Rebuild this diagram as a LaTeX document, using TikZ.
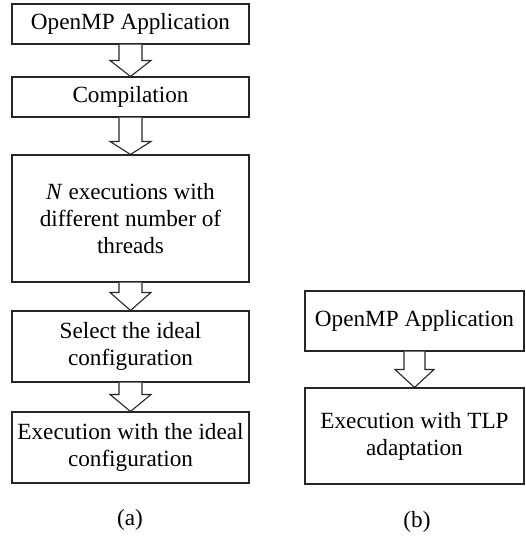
\documentclass[tikz,border=0pt]{standalone}
\usepackage{fontspec}
\setmainfont{Liberation Serif}
\usetikzlibrary{calc}
\tikzset{
  box/.style={draw=black!85, line width=1.1pt, inner sep=0pt, align=center,
    font=\fontsize{23.2}{27}\selectfont},
  blk/.style={draw=black!85, line width=1.1pt, fill=white, line join=miter},
  sublabel/.style={font=\fontsize{23.2}{27}\selectfont}
}
\newcommand\blkarrow[4]{% from, to, half shaft, head length
  \draw[blk] let \p1=(#1.south), \p2=(#2.north) in
    (\x1-#3,\y1) -- (\x1-#3,\y2+#4) -- (\x1-#3-9,\y2+#4) -- (\x1,\y2)
    -- (\x1+#3+9,\y2+#4) -- (\x1+#3,\y2+#4) -- (\x1+#3,\y1);
}
\begin{document}
\begin{tikzpicture}[x=1pt,y=-1pt]
\useasboundingbox (0,0) rectangle (526,539);
% left flow
\node[box, minimum width=237pt, minimum height=40pt] (b1) at (130.5,24) {OpenMP Application};
\node[box, minimum width=237pt, minimum height=40pt] (b2) at (130.5,97) {Compilation};
\node[box, minimum width=237pt, minimum height=127pt] (b3) at (130.5,218.5) {\textit{N} executions with\\different number of\\threads};
\node[box, minimum width=237pt, minimum height=71pt] (b4) at (130.5,346.5) {Select the ideal\\configuration};
\node[box, minimum width=237pt, minimum height=71pt] (b5) at (130.5,447.5) {Execution with the ideal\\configuration};
\node[sublabel] (la) at (130,520) {(a)};
\blkarrow{b1}{b2}{11.5}{16}
\blkarrow{b2}{b3}{11.5}{13}
\blkarrow{b3}{b4}{11.5}{18}
\blkarrow{b4}{b5}{11.5}{17}
% right flow
\node[box, minimum width=219pt, minimum height=60pt] (c1) at (414.5,321) {OpenMP Application};
\node[box, minimum width=219pt, minimum height=96pt] (c2) at (414.5,436) {Execution with TLP\\adaptation};
\node[sublabel] (lb) at (417,522) {(b)};
\blkarrow{c1}{c2}{10.5}{18}
\end{tikzpicture}
\end{document}
